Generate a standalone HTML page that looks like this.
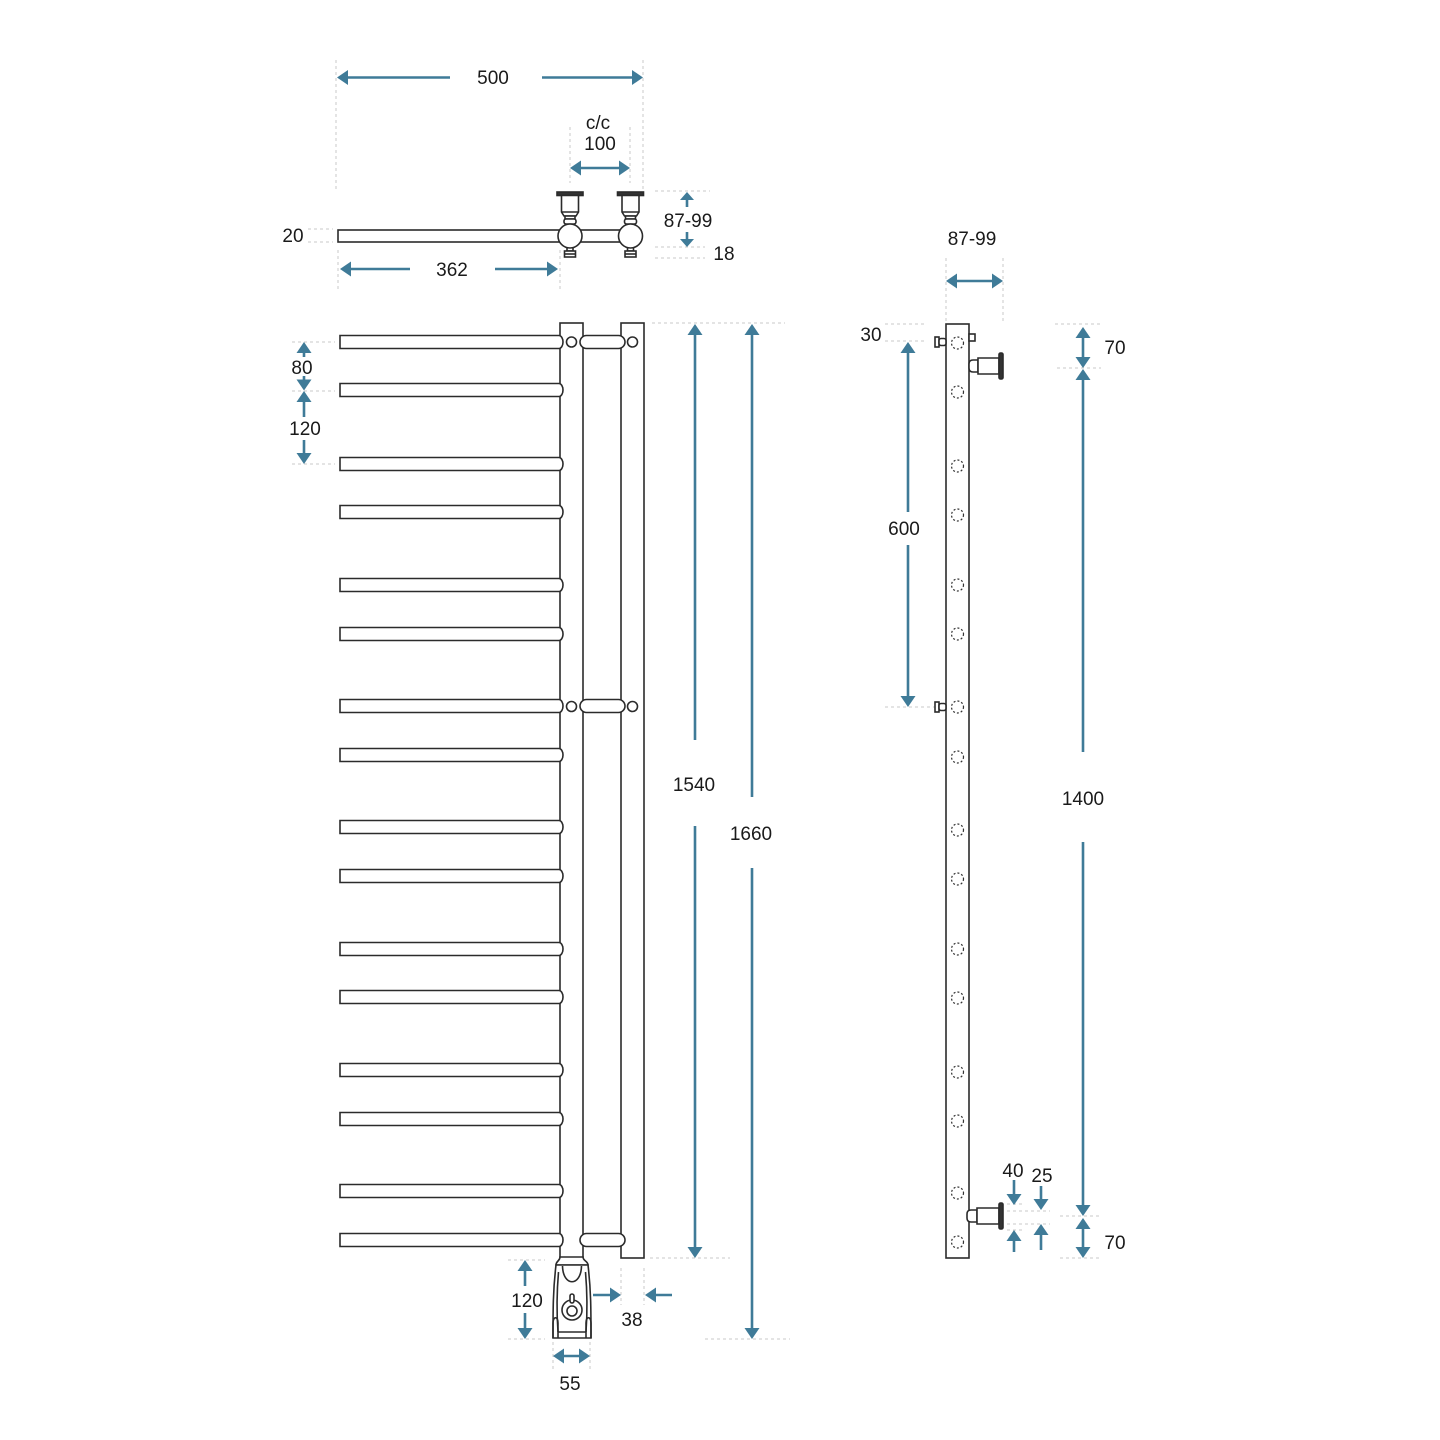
<!DOCTYPE html>
<html><head><meta charset="utf-8"><style>
html,body{margin:0;padding:0;background:#fff;}
svg{display:block;}
text{font-family:"Liberation Sans",sans-serif;font-size:19px;fill:#1a1a1a;text-anchor:middle;}
</style></head><body>
<svg width="1440" height="1440" viewBox="0 0 1440 1440" xmlns="http://www.w3.org/2000/svg">
<!-- dotted extension lines -->
<g stroke="#c8c8c8" stroke-width="1" stroke-dasharray="3,3" fill="none">
<path d="M336,60V190M643,60V190M570,127V183M630,127V183"/>
<path d="M655,191H710M655,247H705M655,258H705M308,229H333M308,242H333"/>
<path d="M338,250V290M560,250V290"/>
<path d="M292,342H335M292,391H335M292,464H335"/>
<path d="M652,323H785M650,1258H730M705,1339H790M508,1260H545M508,1339H545"/>
<path d="M621,1268V1305M644,1268V1305M553,1342V1370M590,1342V1370"/>
<path d="M946,258V322M1003,258V322"/>
<path d="M885,324H925M885,341H924M885,707H935"/>
<path d="M1055,324H1100M1057,368H1101M1060,1216H1100M1060,1258H1100"/>
<path d="M1007,1204H1025M1007,1211H1050M1007,1224H1050M1007,1230H1025"/>
</g>

<!-- arrow lines -->
<g stroke="#3f7b98" stroke-width="2.6" fill="none">
<path d="M347,77.5H450M542,77.5H632M581,168H619"/>
<path d="M687,199V207M687,232V239"/>
<path d="M351,269H410M495,269H547"/>
<path d="M304,352V357M304,376V381M304,401V417M304,440V455"/>
<path d="M695,335V740M695,826V1247M752,335V797M752,868V1328"/>
<path d="M525,1271V1286M525,1313V1328M593,1295H610M656,1295H672M564,1356H579"/>
<path d="M957,281H992M908,353V512M908,545V696"/>
<path d="M1083,338V357M1083,380V752M1083,842V1205M1083,1229V1247"/>
<path d="M1014,1180V1194M1014,1241V1252M1041,1186V1199M1041,1235V1250"/>
</g>

<!-- arrow heads -->
<g fill="#3f7b98">
<!-- left: tip x,y -> x+11,y-7.5 x+11,y+7.5 -->
<polygon points="337,77.5 348,70 348,85"/>
<polygon points="643,77.5 632,70 632,85"/>
<polygon points="570,168 581,160.5 581,175.5"/>
<polygon points="630,168 619,160.5 619,175.5"/>
<polygon points="687,192 680,200 694,200"/>
<polygon points="687,247 680,239 694,239"/>
<polygon points="340,269 351,261.5 351,276.5"/>
<polygon points="558,269 547,261.5 547,276.5"/>
<polygon points="304,342 296.5,353 311.5,353"/>
<polygon points="304,390.5 296.5,379.5 311.5,379.5"/>
<polygon points="304,391 296.5,402 311.5,402"/>
<polygon points="304,464 296.5,453 311.5,453"/>
<polygon points="695,324 687.5,335 702.5,335"/>
<polygon points="695,1258 687.5,1247 702.5,1247"/>
<polygon points="752,324 744.5,335 759.5,335"/>
<polygon points="752,1339 744.5,1328 759.5,1328"/>
<polygon points="525,1260 517.5,1271 532.5,1271"/>
<polygon points="525,1339 517.5,1328 532.5,1328"/>
<polygon points="621,1295 610,1287.5 610,1302.5"/>
<polygon points="645,1295 656,1287.5 656,1302.5"/>
<polygon points="553,1356 564,1348.5 564,1363.5"/>
<polygon points="590,1356 579,1348.5 579,1363.5"/>
<polygon points="946,281 957,273.5 957,288.5"/>
<polygon points="1003,281 992,273.5 992,288.5"/>
<polygon points="908,342 900.5,353 915.5,353"/>
<polygon points="908,707 900.5,696 915.5,696"/>
<polygon points="1083,327 1075.5,338 1090.5,338"/>
<polygon points="1083,368 1075.5,357 1090.5,357"/>
<polygon points="1083,369 1075.5,380 1090.5,380"/>
<polygon points="1083,1216 1075.5,1205 1090.5,1205"/>
<polygon points="1083,1218 1075.5,1229 1090.5,1229"/>
<polygon points="1083,1258 1075.5,1247 1090.5,1247"/>
<polygon points="1014,1205 1006.5,1194 1021.5,1194"/>
<polygon points="1014,1230 1006.5,1241 1021.5,1241"/>
<polygon points="1041,1210 1033.5,1199 1048.5,1199"/>
<polygon points="1041,1224 1033.5,1235 1048.5,1235"/>
</g>

<!-- drawings -->
<g stroke="#2b2b2b" stroke-width="1.6" fill="#fff">
<!-- top view -->
<rect x="338" y="230" width="222" height="12"/>
<rect x="580" y="230" width="40" height="12"/>
<g>
<rect x="557" y="192" width="26" height="3.5" fill="#333"/>
<path d="M561.5,195.5V212L564,216H576L578.5,212V195.5Z"/>
<path d="M561.5,212H578.5"/>
<rect x="565" y="216" width="10" height="3"/>
<rect x="564" y="219" width="12" height="5" rx="2"/>
<rect x="567" y="247.5" width="6" height="3.5"/>
<rect x="564.5" y="251" width="11" height="6"/>
<path d="M564.5,254H575.5"/>
<circle cx="570" cy="236" r="12"/>
</g>
<g>
<rect x="617.5" y="192" width="26" height="3.5" fill="#333"/>
<path d="M622,195.5V212L624.5,216H636.5L639,212V195.5Z"/>
<path d="M622,212H639"/>
<rect x="625.5" y="216" width="10" height="3"/>
<rect x="624.5" y="219" width="12" height="5" rx="2"/>
<rect x="627.5" y="247.5" width="6" height="3.5"/>
<rect x="625" y="251" width="11" height="6"/>
<path d="M625,254H636"/>
<circle cx="630.5" cy="236" r="12"/>
</g>

<!-- front view tubes -->
<rect x="560" y="323" width="23" height="935"/>
<rect x="621" y="323" width="23" height="935"/>
<!-- bars -->
<path d="M340,335.5H559A4,6.5 0 0 1 559,348.5H340Z"/>
<path d="M340,383.5H559A4,6.5 0 0 1 559,396.5H340Z"/>
<path d="M340,457.5H559A4,6.5 0 0 1 559,470.5H340Z"/>
<path d="M340,505.5H559A4,6.5 0 0 1 559,518.5H340Z"/>
<path d="M340,578.5H559A4,6.5 0 0 1 559,591.5H340Z"/>
<path d="M340,627.5H559A4,6.5 0 0 1 559,640.5H340Z"/>
<path d="M340,699.5H559A4,6.5 0 0 1 559,712.5H340Z"/>
<path d="M340,748.5H559A4,6.5 0 0 1 559,761.5H340Z"/>
<path d="M340,820.5H559A4,6.5 0 0 1 559,833.5H340Z"/>
<path d="M340,869.5H559A4,6.5 0 0 1 559,882.5H340Z"/>
<path d="M340,942.5H559A4,6.5 0 0 1 559,955.5H340Z"/>
<path d="M340,990.5H559A4,6.5 0 0 1 559,1003.5H340Z"/>
<path d="M340,1063.5H559A4,6.5 0 0 1 559,1076.5H340Z"/>
<path d="M340,1112.5H559A4,6.5 0 0 1 559,1125.5H340Z"/>
<path d="M340,1184.5H559A4,6.5 0 0 1 559,1197.5H340Z"/>
<path d="M340,1233.5H559A4,6.5 0 0 1 559,1246.5H340Z"/>
<!-- short bars -->
<rect x="580" y="335.5" width="45" height="13" rx="6.5"/>
<rect x="580" y="699.5" width="45" height="13" rx="6.5"/>
<rect x="580" y="1233.5" width="45" height="13" rx="6.5"/>
<circle cx="571.5" cy="342" r="5"/>
<circle cx="632.5" cy="342" r="5"/>
<circle cx="571.5" cy="706.5" r="5"/>
<circle cx="632.5" cy="706.5" r="5"/>

<!-- valve front -->
<path d="M560,1257C560,1261 556,1261 556,1265L588,1265C588,1261 583,1261 583,1257Z"/>
<path d="M556,1265C553,1290 553,1310 553,1338L591,1338C591,1310 591,1290 588,1265Z"/>
<path d="M562.5,1266C563,1287 581,1287 581.5,1266" fill="none"/>
<path d="M558.5,1272C556.5,1295 557,1318 558,1332M585.5,1272C587.5,1295 587,1318 586,1332M558,1332H586" fill="none"/>
<path d="M553,1338V1323C553,1316 558,1316 558,1323V1338" fill="none"/>
<path d="M586,1338V1323C586,1316 591,1316 591,1323V1338" fill="none"/>
<circle cx="572" cy="1310" r="10"/>
<circle cx="572" cy="1311" r="5"/>
<rect x="570" y="1294" width="4" height="9" rx="2"/>

<!-- side view -->
<rect x="946" y="324" width="23" height="934"/>
<rect x="935" y="337" width="4" height="10"/>
<rect x="939" y="338.5" width="7" height="7" rx="2"/>
<rect x="935" y="702" width="4" height="10"/>
<rect x="939" y="703.5" width="7" height="7" rx="2"/>
<rect x="969" y="334" width="6" height="7"/>
<path d="M978,360H973Q969,360 969,364V368Q969,372 973,372H978Z"/>
<path d="M978,358H999V374H978Z"/>
<rect x="999" y="353" width="4" height="26" rx="1.5" fill="#333"/>
<path d="M977,1210H971Q967,1210 967,1214V1218Q967,1222 971,1222H977Z"/>
<path d="M977,1208H999V1224H977Z"/>
<rect x="999" y="1203" width="4" height="26" rx="1.5" fill="#333"/>
</g>
<g stroke="#333" stroke-width="1.2" stroke-dasharray="2,2" fill="none">
<circle cx="957.5" cy="343" r="6"/>
<circle cx="957.5" cy="392" r="6"/>
<circle cx="957.5" cy="466" r="6"/>
<circle cx="957.5" cy="515" r="6"/>
<circle cx="957.5" cy="585" r="6"/>
<circle cx="957.5" cy="634" r="6"/>
<circle cx="957.5" cy="707" r="6"/>
<circle cx="957.5" cy="757" r="6"/>
<circle cx="957.5" cy="830" r="6"/>
<circle cx="957.5" cy="879" r="6"/>
<circle cx="957.5" cy="949" r="6"/>
<circle cx="957.5" cy="998" r="6"/>
<circle cx="957.5" cy="1072" r="6"/>
<circle cx="957.5" cy="1121" r="6"/>
<circle cx="957.5" cy="1193" r="6"/>
<circle cx="957.5" cy="1242" r="6"/>
</g>

<!-- labels -->
<text x="493" y="84">500</text>
<text x="598" y="129">c/c</text>
<text x="600" y="150">100</text>
<text x="688" y="227">87-99</text>
<text x="724" y="260">18</text>
<text x="293" y="242">20</text>
<text x="452" y="276">362</text>
<text x="302" y="374">80</text>
<text x="305" y="435">120</text>
<text x="694" y="791">1540</text>
<text x="751" y="840">1660</text>
<text x="527" y="1307">120</text>
<text x="632" y="1326">38</text>
<text x="570" y="1390">55</text>
<text x="972" y="245">87-99</text>
<text x="871" y="341">30</text>
<text x="904" y="535">600</text>
<text x="1115" y="354">70</text>
<text x="1083" y="805">1400</text>
<text x="1013" y="1177">40</text>
<text x="1042" y="1182">25</text>
<text x="1115" y="1249">70</text>
</svg>
</body></html>
